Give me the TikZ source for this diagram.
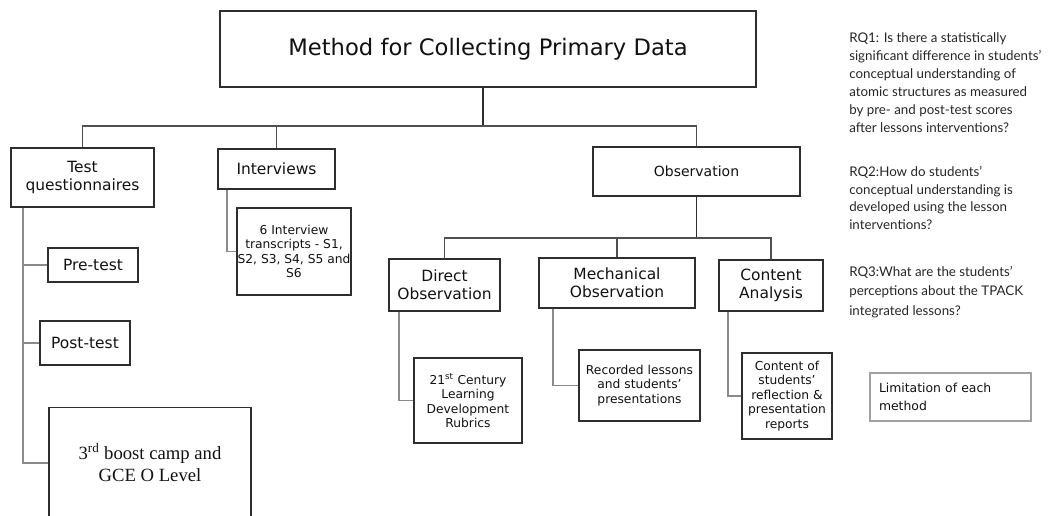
\documentclass[tikz,border=0pt]{standalone}
\usepackage{fontspec}
\setmainfont{DejaVu Sans}
\newfontfamily\rqfont{Lato}
\newfontfamily\tnr{Liberation Serif}
\usetikzlibrary{calc}
\definecolor{boxc}{HTML}{2E2E2E}
\definecolor{leadc}{HTML}{8A8A8A}
\definecolor{busc}{HTML}{505050}
\definecolor{txtc}{HTML}{111111}
\definecolor{rqc}{HTML}{262626}
\tikzset{
  bx/.style 2 args={draw=boxc, line width=1.15pt, minimum width=#1*0.75pt,
    minimum height=#2*0.75pt, inner sep=0pt, align=center, text=txtc},
  midf/.style={font=\fontsize{11.6}{13.6}\selectfont},
  smallf/.style={font=\fontsize{9.2}{10.9}\selectfont},
  bus/.style={draw=busc, line width=1.2pt},
  leader/.style={draw=leadc, line width=1.4pt},
  rq/.style={anchor=north west, inner sep=0pt, align=left, text=rqc}
}
\begin{document}
\begin{tikzpicture}[x=0.75pt,y=-0.75pt]
\useasboundingbox (0,0) rectangle (1057,515);
% top level
\node[bx={536}{76}, font=\fontsize{17}{20}\selectfont] (title) at (488,49) {Method for Collecting Primary Data};
\coordinate (bus) at (483,126);
% second level
\node[bx={143}{59}, midf] (tq) at (82.5,177.5) {Test\\questionnaires};
\node[bx={117}{40}, midf] (int) at (276.5,169) {Interviews};
\node[bx={207}{49}, font=\fontsize{10.5}{12.5}\selectfont] (obs) at (696.5,171.5) {Observation};
% test questionnaire children
\node[bx={90}{34}, midf] (pre) at (93,265) {Pre-test};
\node[bx={90}{44}, midf] (post) at (85,343) {Post-test};
\node[bx={202}{111}, font=\tnr\fontsize{14}{16.5}\selectfont] (boost) at (150,463) {3\textsuperscript{rd} boost camp and\\GCE O Level};
% interviews child
\node[bx={114}{87}, smallf] (trans) at (294,251.5) {6 Interview\\transcripts - S1,\\S2, S3, S4, S5 and\\S6};
% observation children
\coordinate (bus2) at (696.5,238);
\node[bx={111}{52}, midf] (dir) at (444.5,285) {Direct\\Observation};
\node[bx={156}{50}, midf] (mech) at (617,283) {Mechanical\\Observation};
\node[bx={104}{51}, midf] (cont) at (771,285.5) {Content\\Analysis};
\node[bx={108}{85}, smallf] (rub) at (468,400.5) {21\textsuperscript{st} Century\\Learning\\Development\\Rubrics};
\node[bx={121}{71}, smallf] (rec) at (639.5,385.5) {Recorded lessons\\and students’\\presentations};
\node[bx={90}{86}, smallf] (crep) at (787,396) {Content of\\students’\\reflection \&\\presentation\\reports};
% limitation
\node[draw=leadc!80, line width=0.9pt, minimum height=36pt, inner xsep=6.75pt, inner ysep=0pt,
  text width=107.25pt, align=left, text=txtc, font=\fontsize{9.3}{14}\selectfont] (lim) at (950.5,397) {Limitation of each\\method};
% research questions
\node[rq, font=\rqfont\fontsize{10}{13.5}\selectfont] (rq1) at (849,32) {RQ1: Is there a statistically\\significant difference in students’\\conceptual understanding of\\atomic structures as measured\\by pre- and post-test scores\\after lessons interventions?};
\node[rq, font=\rqfont\fontsize{10}{13.3}\selectfont] (rq2) at (849,166) {RQ2:How do students’\\conceptual understanding is\\developed using the lesson\\interventions?};
\node[rq, font=\rqfont\fontsize{10}{14.6}\selectfont] (rq3) at (849,266) {RQ3:What are the students’\\perceptions about the TPACK\\integrated lessons?};
% connectors: top level
\draw[draw=boxc, line width=1.3pt] (title.south -| bus) -- (bus);
\draw[bus] (tq.north) -- (tq.north |- bus) -- (obs.north |- bus) -- (obs.north);
\draw[bus] (int.north) -- (int.north |- bus);
% test questionnaires leaders
\coordinate (tqs) at ($(tq.south west)+(13,0)$);
\draw[leader] (tqs) |- (boost.west);
\draw[leader] (tqs |- pre.west) -- (pre.west);
\draw[leader] (tqs |- post.west) -- (post.west);
% interviews leader
\draw[leader] ($(int.south west)+(10,0)$) |- (trans.west);
% observation
\draw[draw=boxc, line width=1.3pt] (obs.south) -- (bus2);
\draw[bus] (dir.north) -- (dir.north |- bus2) -- (cont.north |- bus2) -- (cont.north);
\draw[bus] (mech.north) -- (mech.north |- bus2);
\draw[leader] ($(dir.south west)+(11,0)$) |- (rub.west);
\draw[leader] ($(mech.south west)+(15,0)$) |- (rec.west);
\draw[leader] ($(cont.south west)+(10,0)$) |- (crep.west);
\end{tikzpicture}
\end{document}
